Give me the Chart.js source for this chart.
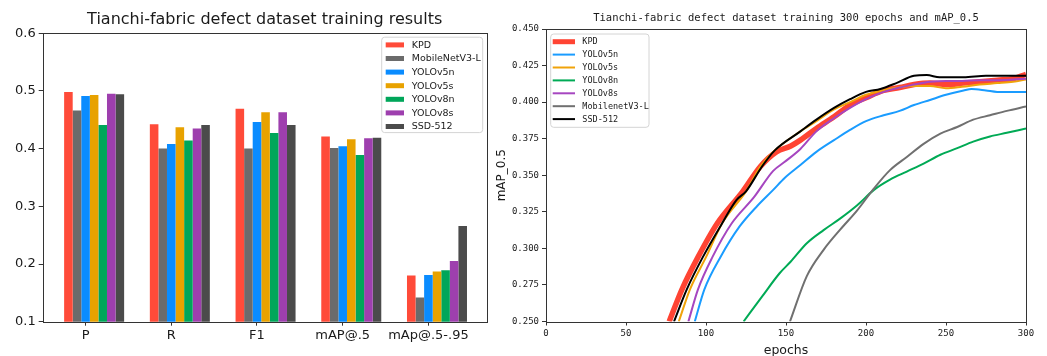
<!DOCTYPE html>
<html>
<head>
<meta charset="utf-8">
<title>Tianchi-fabric defect dataset</title>
<script src="https://cdn.jsdelivr.net/npm/chart.js@4.4.1/dist/chart.umd.min.js"></script>
<style>
  html, body { margin: 0; padding: 0; background: #fff; overflow: hidden; }
  #wrap { position: relative; width: 1047px; height: 356px; }
  #barChart { position: absolute; left: 0; top: 0; }
  #lineChart { position: absolute; left: 490px; top: 0; }
</style>
</head>
<body>
<div id="wrap">
  <canvas id="barChart" width="490" height="356"></canvas>
  <canvas id="lineChart" width="557" height="356"></canvas>
</div>
<script>
// ------------------------------------------------------------
// DATA
// ------------------------------------------------------------
const categories = ["P", "R", "F1", "mAP@.5", "mAp@.5-.95"];
const barModels = ["KPD", "MobileNetV3-L", "YOLOv5n", "YOLOv5s", "YOLOv8n", "YOLOv8s", "SSD-512"];

const kpdScores       = [0.498, 0.442, 0.469, 0.421, 0.180];
const mobileNetScores = [0.466, 0.400, 0.400, 0.401, 0.142];
const yolov5nScores   = [0.491, 0.408, 0.446, 0.404, 0.181];
const yolov5sScores   = [0.493, 0.437, 0.463, 0.416, 0.187];
const yolov8nScores   = [0.441, 0.414, 0.427, 0.389, 0.189];
const yolov8sScores   = [0.495, 0.435, 0.463, 0.418, 0.205];
const ssdScores       = [0.494, 0.441, 0.441, 0.419, 0.266];

const yTicksLeft = [0.1, 0.2, 0.3, 0.4, 0.5, 0.6];

// [epoch, mAP_0.5]
const lineModels = ["KPD", "YOLOv5n", "YOLOv5s", "YOLOv8n", "YOLOv8s", "MobilenetV3-L", "SSD-512"];

const kpdCurve = [[77,0.250],[85,0.272],[95,0.294],[107,0.317],[123,0.339],[134,0.356],[144,0.366],
  [153,0.370],[159,0.374],[169,0.382],[180,0.390],[190,0.398],[200,0.403],[211,0.408],[221,0.410],
  [230,0.412],[240,0.413],[250,0.412],[261,0.413],[271,0.414],[282,0.415],[292,0.416],[300,0.419]];

const yolov5nCurve = [[93,0.250],[99,0.272],[109,0.294],[121,0.315],[132,0.329],[142,0.340],[149,0.348],
  [159,0.357],[169,0.366],[180,0.374],[190,0.381],[200,0.387],[211,0.391],[221,0.394],[230,0.398],
  [240,0.4015],[250,0.405],[261,0.408],[266,0.409],[275,0.408],[282,0.407],[300,0.407]];

const yolov5sCurve = [[83,0.250],[90,0.272],[100,0.294],[110,0.317],[125,0.339],[134,0.356],[143,0.367],
  [159,0.380],[169,0.387],[180,0.395],[190,0.400],[200,0.405],[210,0.408],[220,0.410],[230,0.411],
  [240,0.411],[250,0.4095],[260,0.4105],[271,0.412],[282,0.413],[292,0.414],[300,0.4155]];

const yolov8nCurve = [[123.5,0.250],[135,0.267],[146,0.283],[153,0.291],[163,0.3035],[173.5,0.3125],
  [184,0.3205],[194.5,0.3295],[205,0.340],[215,0.347],[225.5,0.3525],[236,0.358],[246.5,0.364],
  [257,0.3685],[267,0.373],[277.5,0.3765],[288,0.379],[300,0.382]];

const yolov8sCurve = [[89,0.250],[95,0.272],[104,0.294],[116,0.317],[130,0.335],[142,0.353],[149,0.359],
  [159,0.368],[169,0.380],[180,0.389],[190,0.396],[200,0.402],[211,0.407],[221,0.410],[230,0.412],
  [240,0.414],[250,0.4145],[260,0.4145],[271,0.415],[282,0.415],[300,0.416]];

const mobileNetCurve = [[152.5,0.250],[163,0.281],[173.5,0.299],[184,0.313],[194.5,0.326],[205,0.341],
  [215,0.3535],[225.5,0.3625],[236,0.3715],[246.5,0.3785],[257,0.383],[267,0.388],[277.5,0.391],
  [288,0.394],[300,0.397]];

const ssdCurve = [[80,0.250],[88,0.272],[98,0.294],[110,0.317],[119,0.333],[125,0.339],[135,0.356],
  [143,0.367],[159,0.380],[169,0.388],[180,0.396],[190,0.402],[200,0.407],[209,0.409],[219,0.413],
  [230,0.418],[238,0.4185],[246,0.417],[261,0.417],[275,0.418],[288,0.418],[300,0.418]];

// ------------------------------------------------------------
// COLOURS / FONTS
// ------------------------------------------------------------
const barColors = ["#ff4b39", "#6b6b6b", "#0a8cff", "#e8a200", "#00a65a", "#9e3fae", "#4b4b4b"];
const lineColors = ["#ff4433", "#1a9cff", "#f0a30a", "#00aa55", "#a646c0", "#707070", "#000000"];
const lineWidths = [5.5, 2, 2, 2, 2, 2, 2];

const SANS = "DejaVu Sans";
const MONO = "DejaVu Sans Mono";
const INK = "#1a1a1a";
const SPINE = "#333333";

// ------------------------------------------------------------
// PLUGIN: matplotlib-like frame + boxed legend inside the axes
// ------------------------------------------------------------
const boxLegend = {
  id: "boxLegend",
  afterDraw(chart, args, o) {
    const ctx = chart.ctx;
    const a = chart.chartArea;
    ctx.save();

    // axes frame
    const l = Math.round(a.left) + 0.5, r = Math.round(a.right) + 0.5;
    const t = Math.round(a.top) + 0.5, b = Math.round(a.bottom) + 0.5;
    ctx.strokeStyle = SPINE;
    ctx.lineWidth = 1;
    ctx.strokeRect(l, t, r - l, b - t);

    // legend box
    const bx = o.side === "right" ? a.right - o.inset - o.width : a.left + o.inset;
    const by = a.top + o.top;
    ctx.beginPath();
    ctx.roundRect(bx, by, o.width, o.height, 3);
    ctx.fillStyle = "rgba(255,255,255,0.85)";
    ctx.fill();
    ctx.strokeStyle = "#d4d4d4";
    ctx.stroke();

    ctx.font = o.font;
    ctx.textBaseline = "middle";
    ctx.textAlign = "left";
    chart.data.datasets.forEach((ds, i) => {
      const cy = by + o.rowStart + i * o.rowStep;
      if (o.kind === "bar") {
        ctx.fillStyle = ds.backgroundColor;
        ctx.fillRect(bx + o.handleX, cy - o.handleH / 2, o.handleW, o.handleH);
      } else {
        ctx.strokeStyle = ds.borderColor;
        ctx.lineWidth = Math.min(ds.borderWidth, 5);
        ctx.beginPath();
        ctx.moveTo(bx + o.handleX, cy);
        ctx.lineTo(bx + o.handleX + o.handleW, cy);
        ctx.stroke();
      }
      ctx.fillStyle = INK;
      ctx.fillText(ds.label, bx + o.textX, cy + 0.5);
    });
    ctx.restore();
  }
};

// ------------------------------------------------------------
// LEFT: GROUPED BAR CHART
// ------------------------------------------------------------
const barScores = [kpdScores, mobileNetScores, yolov5nScores, yolov5sScores, yolov8nScores, yolov8sScores, ssdScores];

new Chart(document.getElementById("barChart"), {
  type: "bar",
  data: {
    datasets: barModels.map((name, i) => ({
      label: name,
      data: categories.map((c, j) => ({ x: j, y: barScores[i][j] })),
      backgroundColor: barColors[i],
      borderWidth: 0,
      categoryPercentage: 0.7,
      barPercentage: 1.0
    }))
  },
  options: {
    responsive: false,
    animation: false,
    events: [],
    layout: { padding: { left: 0, right: 3.3, top: 0, bottom: 0 } },
    plugins: {
      legend: { display: false },
      tooltip: { enabled: false },
      title: {
        display: true,
        text: "Tianchi-fabric defect dataset training results",
        fullSize: false,
        color: INK,
        font: { family: SANS, size: 16, weight: "normal" },
        padding: { top: 10, bottom: 4 }
      },
      boxLegend: {
        side: "right", inset: 4, top: 4, width: 101, height: 95.4,
        rowStart: 7.7, rowStep: 13.6, kind: "bar",
        handleX: 4, handleW: 18.3, handleH: 5, textX: 30,
        font: `9.5px "${SANS}"`
      }
    },
    scales: {
      x: {
        type: "linear",
        offset: false,
        min: -0.6,
        max: 4.58,
        afterBuildTicks: s => { s.ticks = categories.map((c, i) => ({ value: i - 0.1 })); },
        afterFit: s => { s.height = 34.3; },
        ticks: {
          callback: (v, i) => categories[i],
          autoSkip: false, maxRotation: 0, padding: 2,
          color: INK, font: { family: SANS, size: 13 }
        },
        grid: { offset: false, drawOnChartArea: false, tickLength: 4, color: SPINE },
        border: { display: false }
      },
      y: {
        min: 0.1,
        max: 0.6,
        afterBuildTicks: s => { s.ticks = yTicksLeft.map(v => ({ value: v })); },
        afterFit: s => { s.width = 42.7; },
        ticks: {
          callback: v => v.toFixed(1),
          padding: 3,
          color: INK, font: { family: SANS, size: 13 }
        },
        grid: { drawOnChartArea: false, tickLength: 4, color: SPINE },
        border: { display: false }
      }
    }
  },
  plugins: [boxLegend]
});

// ------------------------------------------------------------
// RIGHT: TRAINING CURVES
// ------------------------------------------------------------
const curves = [kpdCurve, yolov5nCurve, yolov5sCurve, yolov8nCurve, yolov8sCurve, mobileNetCurve, ssdCurve];

new Chart(document.getElementById("lineChart"), {
  type: "line",
  data: {
    datasets: lineModels.map((name, i) => ({
      label: name,
      data: curves[i].map(p => ({ x: p[0], y: p[1] })),
      borderColor: lineColors[i],
      backgroundColor: lineColors[i],
      borderWidth: lineWidths[i],
      pointRadius: 0,
      fill: false,
      cubicInterpolationMode: "monotone",
      clip: 0,
      order: lineModels.length - i
    }))
  },
  options: {
    responsive: false,
    animation: false,
    events: [],
    layout: { padding: { left: 0, right: 21, top: 0, bottom: 0 } },
    plugins: {
      legend: { display: false },
      tooltip: { enabled: false },
      title: {
        display: true,
        text: "Tianchi-fabric defect dataset training 300 epochs and mAP_0.5",
        fullSize: false,
        color: INK,
        font: { family: MONO, size: 10.5, weight: "normal" },
        padding: { top: 12.4, bottom: 4 }
      },
      boxLegend: {
        side: "left", inset: 4.7, top: 5, width: 98.3, height: 93.3,
        rowStart: 7.7, rowStep: 12.9, kind: "line",
        handleX: 2, handleW: 22.3, textX: 31.6,
        font: `8.5px "${MONO}"`
      }
    },
    scales: {
      x: {
        type: "linear",
        min: 0,
        max: 300,
        afterFit: s => { s.height = 34.5; },
        ticks: { stepSize: 50, padding: 3, color: INK, font: { family: MONO, size: 9 } },
        grid: { drawOnChartArea: false, tickLength: 4, color: SPINE },
        border: { display: false },
        title: {
          display: true, text: "epochs", color: INK,
          font: { family: SANS, size: 12.5, lineHeight: 0.8 },
          padding: 0
        }
      },
      y: {
        min: 0.25,
        max: 0.45,
        afterFit: s => { s.width = 56; },
        ticks: {
          stepSize: 0.025,
          callback: v => v.toFixed(3),
          padding: 3, color: INK, font: { family: MONO, size: 9 }
        },
        grid: { drawOnChartArea: false, tickLength: 4, color: SPINE },
        border: { display: false },
        title: {
          display: true, text: "mAP_0.5", color: INK,
          font: { family: SANS, size: 12 },
          padding: { top: 4.5, bottom: 0 }
        }
      }
    }
  },
  plugins: [boxLegend]
});
</script>
</body>
</html>
